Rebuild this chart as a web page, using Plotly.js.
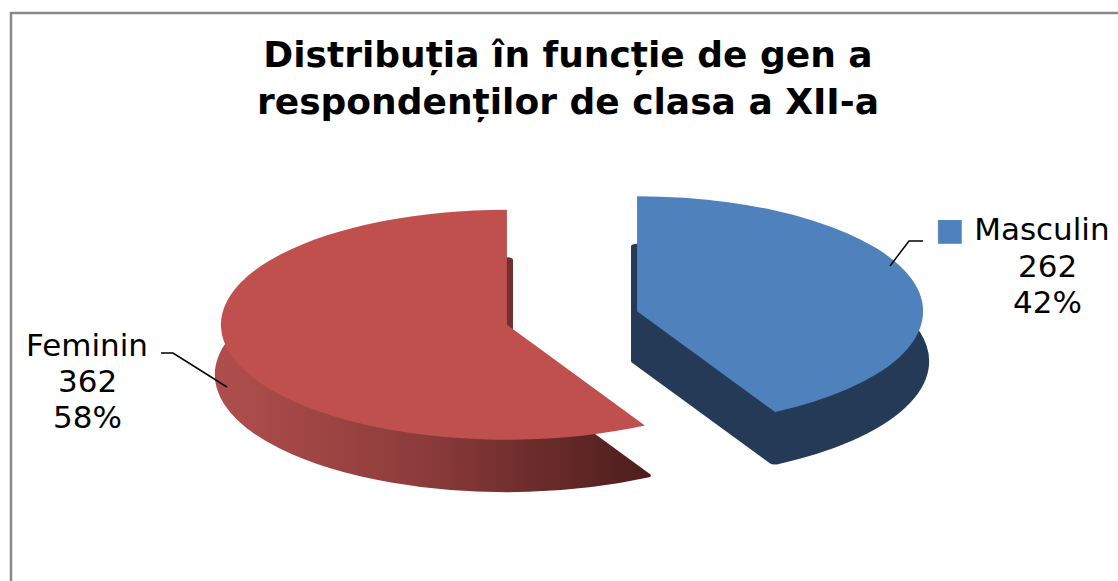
<!DOCTYPE html>
<html>
<head>
<meta charset="utf-8">
<script src="https://cdn.plot.ly/plotly-3.0.1.min.js"></script>
<style>
  html, body { margin: 0; padding: 0; background: #ffffff; overflow: hidden; }
  #chart { width: 1118px; height: 581px; }
</style>
</head>
<body>
<div id="chart"></div>
<script>
// ---- data ----
const labels = ['Masculin', 'Feminin'];
const values = [262, 362];
const topColors = ['#4F81BD', '#C0504D'];
const wallColors = ['#243A57', '#8A3C3B'];
const titleText = 'Distribuția în funcție de gen a<br>respondenților de clasa a XII-a';

// ---- derived ----
const total = values.reduce((s, v) => s + v, 0);
const pct = values.map(v => Math.round(v / total * 100));

const W = 1118, H = 581;
const px = x => x / W;
const py = y => 1 - y / H;

// ellipse geometry for the tilted pie look (styling)
const CX = 572, CY = 318, A = 286, B = 115, D = 50;
const PULL = 0.235;

const wallTrace = {
  type: 'pie', labels: labels, values: values, sort: false,
  direction: 'clockwise', rotation: 0, pull: PULL,
  textinfo: 'none', hoverinfo: 'skip', showlegend: false,
  marker: { colors: wallColors, line: { color: wallColors, width: 10 } }
};
const topTrace = {
  type: 'pie', labels: labels, values: values, sort: false,
  direction: 'clockwise', rotation: 0, pull: PULL,
  textinfo: 'none', hoverinfo: 'skip', showlegend: false,
  marker: { colors: topColors, line: { width: 0 } }
};

const font = 'DejaVu Sans, Liberation Sans, Arial, sans-serif';
const lblFont = { family: font, size: 31, color: '#000' };
const annotations = [];
// Masculin label block (index 0)
const mx = 1047;
annotations.push({ xref: 'paper', yref: 'paper', x: px(933), y: py(229), xanchor: 'left', yanchor: 'middle',
  text: '<span style="color:' + topColors[0] + '">■</span> ' + labels[0], showarrow: false, font: lblFont });
annotations.push({ xref: 'paper', yref: 'paper', x: px(mx), y: py(266), xanchor: 'center', yanchor: 'middle',
  text: String(values[0]), showarrow: false, font: lblFont });
annotations.push({ xref: 'paper', yref: 'paper', x: px(mx), y: py(302), xanchor: 'center', yanchor: 'middle',
  text: pct[0] + '%', showarrow: false, font: lblFont });
// Feminin label block (index 1)
const fx = 87;
annotations.push({ xref: 'paper', yref: 'paper', x: px(fx), y: py(345), xanchor: 'center', yanchor: 'middle',
  text: labels[1], showarrow: false, font: lblFont });
annotations.push({ xref: 'paper', yref: 'paper', x: px(fx), y: py(381), xanchor: 'center', yanchor: 'middle',
  text: String(values[1]), showarrow: false, font: lblFont });
annotations.push({ xref: 'paper', yref: 'paper', x: px(fx), y: py(417), xanchor: 'center', yanchor: 'middle',
  text: pct[1] + '%', showarrow: false, font: lblFont });

const P = (pts) => 'M ' + pts.map(p => px(p[0]) + ',' + py(p[1])).join(' L ');

const shapes = [
  // chart border
  { type: 'rect', xref: 'paper', yref: 'paper', x0: px(11), y0: py(13), x1: 1.05, y1: -0.05,
    line: { color: '#888888', width: 2.5 }, fillcolor: 'rgba(0,0,0,0)', layer: 'below' },
  // leader lines
  { type: 'path', xref: 'paper', yref: 'paper', path: P([[890, 266], [909, 241], [923, 241]]),
    line: { color: '#000', width: 1.5 } },
  { type: 'path', xref: 'paper', yref: 'paper', path: P([[161, 353], [173, 353], [227, 387]]),
    line: { color: '#000', width: 1.5 } }
];

const layout = {
  width: W, height: H,
  margin: { l: 0, r: 0, t: 0, b: 0 },
  paper_bgcolor: '#ffffff', plot_bgcolor: '#ffffff',
  showlegend: false,
  title: {
    text: titleText,
    font: { family: font, size: 36, color: '#000', weight: 700 },
    x: px(568), xanchor: 'center', xref: 'paper',
    y: 1 - 67 / H, yanchor: 'top', yref: 'container'
  },
  annotations: annotations,
  shapes: shapes
};

const gd = document.getElementById('chart');
Plotly.newPlot(gd, [wallTrace, topTrace], layout, { staticPlot: true, displayModeBar: false }).then(() => {
  const groups = gd.querySelectorAll('g.pielayer g.trace');
  groups.forEach((g, i) => {
    const cd0 = gd.calcdata[i][0];
    const sx = A / cd0.r, sy = B / cd0.r;
    const ty = CY + (i === 0 ? D : 0);
    g.setAttribute('transform',
      'translate(' + CX + ',' + ty + ') scale(' + sx + ',' + sy + ') translate(' + (-cd0.cx) + ',' + (-cd0.cy) + ')');
  });
  // gradient shading on the red side wall
  const svgNS = 'http://www.w3.org/2000/svg';
  const defs = gd.querySelector('svg.main-svg defs');
  const grad = document.createElementNS(svgNS, 'linearGradient');
  grad.setAttribute('id', 'redWallGrad');
  grad.setAttribute('x1', '0'); grad.setAttribute('x2', '1');
  grad.setAttribute('y1', '0'); grad.setAttribute('y2', '0');
  [['0', '#AE4E4C'], ['0.45', '#8E3D3C'], ['1', '#4E1E1D']].forEach(s => {
    const st = document.createElementNS(svgNS, 'stop');
    st.setAttribute('offset', s[0]); st.setAttribute('stop-color', s[1]);
    grad.appendChild(st);
  });
  defs.appendChild(grad);
  const wallPaths = groups[0].querySelectorAll('g.slice path.surface');
  if (wallPaths[1]) {
    wallPaths[1].style.fill = 'url(#redWallGrad)';
    wallPaths[1].style.stroke = 'url(#redWallGrad)';
  }
});
</script>
</body>
</html>
